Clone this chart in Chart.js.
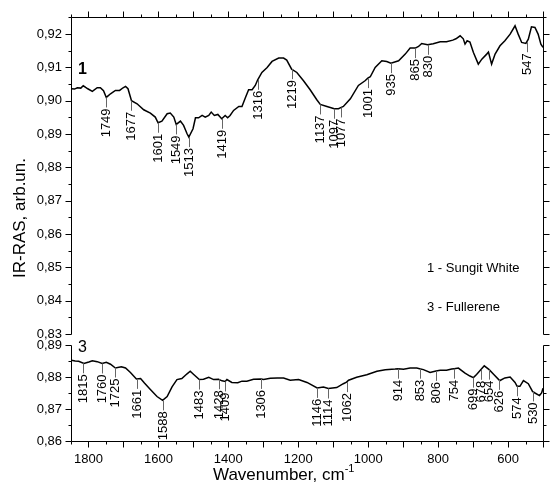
<!DOCTYPE html>
<html>
<head>
<meta charset="utf-8">
<script src="https://cdn.jsdelivr.net/npm/chart.js@4"></script>
<style>
  html, body { margin: 0; padding: 0; background: #fff; }
  #wrap { position: relative; width: 550px; height: 482px; }
  #wrap canvas { position: absolute; left: 0; top: 0; }
</style>
</head>
<body>
<div id="wrap">
  <canvas id="upper" width="550" height="482"></canvas>
  <canvas id="lower" width="550" height="482"></canvas>
</div>
<script>
// 1 - Sungit White
const wn1 = [1849, 1840, 1832, 1822, 1815, 1808, 1802, 1789, 1775, 1766, 1757, 1749, 1737, 1723, 1711, 1701,
  1694, 1687, 1677, 1661, 1642, 1623, 1609, 1601, 1590, 1575, 1566, 1556, 1549, 1537, 1528, 1518, 1513, 1501,
  1494, 1485, 1475, 1466, 1456, 1449, 1440, 1430, 1419, 1409, 1402, 1395, 1385, 1370, 1361, 1351, 1342, 1332,
  1323, 1316, 1304, 1289, 1275, 1256, 1242, 1233, 1219, 1204, 1185, 1166, 1147, 1137, 1118, 1097, 1085, 1077,
  1071, 1051, 1028, 1009, 1001, 994, 980, 961, 947, 935, 913, 894, 880, 865, 856, 847, 830, 814, 794, 776, 758,
  749, 737, 728, 723, 717, 709, 699, 685, 675, 661, 656, 647, 637, 623, 609, 594, 580, 571, 561, 549, 542, 533,
  523, 514, 506, 500];
const ir1 = [0.9036, 0.9035, 0.9039, 0.9038, 0.9045, 0.9040, 0.9036, 0.9028, 0.9039, 0.9039, 0.9030, 0.9010,
  0.9021, 0.9031, 0.9031, 0.9039, 0.9043, 0.9036, 0.9000, 0.8991, 0.8973, 0.8963, 0.8951, 0.8934, 0.8939,
  0.8961, 0.8963, 0.8951, 0.8929, 0.8939, 0.8926, 0.8901, 0.8891, 0.8916, 0.8949, 0.8949, 0.8956, 0.8951,
  0.8956, 0.8966, 0.8956, 0.8959, 0.8946, 0.8956, 0.8949, 0.8956, 0.8971, 0.8983, 0.8983, 0.9010, 0.9033,
  0.9033, 0.9046, 0.9063, 0.9085, 0.9100, 0.9118, 0.9128, 0.9128, 0.9122, 0.9095, 0.9085, 0.9060, 0.9033,
  0.9003, 0.8989, 0.8983, 0.8976, 0.8976, 0.8980, 0.8983, 0.9006, 0.9046, 0.9060, 0.9068, 0.9072, 0.9100,
  0.9120, 0.9118, 0.9113, 0.9120, 0.9140, 0.9158, 0.9158, 0.9163, 0.9172, 0.9168, 0.9171, 0.9177, 0.9177,
  0.9182, 0.9186, 0.9195, 0.9186, 0.9170, 0.9180, 0.9176, 0.9145, 0.9110, 0.9125, 0.9140, 0.9146, 0.9110,
  0.9140, 0.9165, 0.9180, 0.9200, 0.9225, 0.9200, 0.9175, 0.9172, 0.9185, 0.9222, 0.9220, 0.9200, 0.9170,
  0.9160];
const peaks1 = [1749, 1677, 1601, 1549, 1513, 1419, 1316, 1219, 1137, 1097, 1077, 1001, 935, 865, 830, 547];

// 3 - Fullerene
const wn3 = [1849, 1838, 1828, 1813, 1799, 1789, 1775, 1761, 1749, 1737, 1723, 1706, 1694, 1680, 1663, 1651,
  1640, 1623, 1604, 1588, 1575, 1561, 1547, 1533, 1518, 1509, 1499, 1483, 1471, 1456, 1442, 1428, 1418, 1409,
  1404, 1390, 1373, 1361, 1347, 1328, 1306, 1299, 1280, 1260, 1242, 1223, 1199, 1175, 1146, 1128, 1114, 1090,
  1071, 1062, 1056, 1033, 1004, 975, 951, 923, 914, 899, 880, 861, 853, 842, 823, 806, 794, 776, 761, 754, 742,
  723, 709, 699, 690, 680, 668, 654, 640, 626, 623, 609, 594, 580, 574, 566, 556, 542, 530, 523, 510, 504, 500];
const ir3 = [0.8852, 0.8850, 0.8849, 0.8842, 0.8847, 0.8851, 0.8848, 0.8842, 0.8846, 0.8840, 0.8828, 0.8832,
  0.8828, 0.8814, 0.8794, 0.8795, 0.8781, 0.8761, 0.8739, 0.8727, 0.8739, 0.8769, 0.8792, 0.8795, 0.8810,
  0.8818, 0.8808, 0.8792, 0.8793, 0.8799, 0.8792, 0.8793, 0.8788, 0.8786, 0.8792, 0.8783, 0.8782, 0.8787,
  0.8787, 0.8793, 0.8794, 0.8792, 0.8796, 0.8797, 0.8797, 0.8790, 0.8792, 0.8783, 0.8766, 0.8769, 0.8764,
  0.8767, 0.8779, 0.8784, 0.8790, 0.8799, 0.8807, 0.8818, 0.8823, 0.8825, 0.8826, 0.8824, 0.8828, 0.8828,
  0.8826, 0.8823, 0.8814, 0.8819, 0.8821, 0.8821, 0.8825, 0.8826, 0.8828, 0.8812, 0.8803, 0.8798, 0.8808,
  0.8820, 0.8835, 0.8823, 0.8807, 0.8791, 0.8789, 0.8797, 0.8800, 0.8783, 0.8771, 0.8771, 0.8789, 0.8779,
  0.8755, 0.8750, 0.8742, 0.8750, 0.8765];
const peaks3 = [1815, 1760, 1725, 1661, 1588, 1483, 1428, 1409, 1306, 1146, 1114, 1062, 914, 853, 806, 754,
  699, 678, 654, 626, 574, 530];

const xLabels = [1800, 1600, 1400, 1200, 1000, 800, 600];
const yLabels1 = [0.83, 0.84, 0.85, 0.86, 0.87, 0.88, 0.89, 0.90, 0.91, 0.92];
const yLabels3 = [0.86, 0.87, 0.88, 0.89];
const legendLines = ['1 - Sungit White', '3 - Fullerene'];

const FONT = '"Liberation Sans", Arial, sans-serif';
Chart.defaults.font.family = FONT;
Chart.defaults.color = '#000';

function valueAt(xs, ys, w) {
  for (let i = 0; i < xs.length - 1; i++) {
    const a = xs[i], b = xs[i + 1];
    if (w <= a && w >= b) {
      return ys[i] + (w - a) / (b - a) * (ys[i + 1] - ys[i]);
    }
  }
  return ys[ys.length - 1];
}

const comma = v => Number(v).toFixed(2).replace('.', ',');

// axes frame, minor ticks, peak marks and texts
function makeFrame(cfg) {
  return {
    id: 'frame' + cfg.tag,
    afterDatasetsDraw(chart) {
      const { ctx, chartArea: a, scales: { x, y } } = chart;
      const L = Math.round(a.left) + 0.5;
      const R = Math.round(a.right) + 0.5;
      const T = Math.round(a.top) + 0.5;
      const B = Math.round(a.bottom) + 0.5;
      const edge = cfg.side === 'top' ? T : B;
      const dir = cfg.side === 'top' ? -1 : 1;

      ctx.save();
      ctx.strokeStyle = '#000';
      ctx.lineWidth = 1;
      ctx.beginPath();
      ctx.moveTo(L, T); ctx.lineTo(L, B);
      ctx.moveTo(R, T); ctx.lineTo(R, B);
      ctx.moveTo(L, edge); ctx.lineTo(R, edge);
      for (let v = 500; v <= 1850; v += 50) {
        const px = Math.round(x.getPixelForValue(v)) + 0.5;
        const len = v % 100 === 0 ? 6 : 3;
        ctx.moveTo(px, edge); ctx.lineTo(px, edge + dir * len);
      }
      for (let i = 0; ; i++) {
        const v = y.min + i * 0.005;
        if (v > y.max + 1e-9) break;
        const py = Math.round(y.getPixelForValue(v)) + 0.5;
        const len = i % 2 === 0 ? 6 : 3;
        ctx.moveTo(L, py); ctx.lineTo(L - len, py);
        ctx.moveTo(R, py); ctx.lineTo(R + len, py);
      }
      ctx.stroke();

      // peak marks
      ctx.strokeStyle = '#666';
      ctx.beginPath();
      cfg.peaks.forEach(p => {
        const px = Math.round(x.getPixelForValue(p)) + 0.5;
        const py = y.getPixelForValue(valueAt(cfg.xs, cfg.ys, p));
        ctx.moveTo(px, py); ctx.lineTo(px, py + 10);
      });
      ctx.stroke();
      ctx.fillStyle = '#000';
      ctx.font = '13px ' + FONT;
      ctx.textAlign = 'right';
      ctx.textBaseline = 'middle';
      cfg.peaks.forEach(p => {
        const px = Math.round(x.getPixelForValue(p)) + 0.5;
        const py = y.getPixelForValue(valueAt(cfg.xs, cfg.ys, p));
        ctx.save();
        ctx.translate(px, py + 11);
        ctx.rotate(-Math.PI / 2);
        ctx.fillText(String(p), 0, 0);
        ctx.restore();
      });

      // curve number
      ctx.textAlign = 'left';
      ctx.font = cfg.tagFont + ' 16px ' + FONT;
      ctx.fillText(cfg.tag, a.left + 7, a.top + cfg.tagDy);

      if (cfg.legend) {
        ctx.font = '13px ' + FONT;
        legendLines.forEach((t, i) => ctx.fillText(t, a.right - 116, a.top + 252 + i * 39));
      }

      if (cfg.titles) {
        ctx.font = '17px ' + FONT;
        ctx.textBaseline = 'alphabetic';
        const main = 'Wavenumber, cm';
        const x0 = a.left + 142;
        ctx.fillText(main, x0, a.bottom + 39);
        const w = ctx.measureText(main).width;
        ctx.font = '11px ' + FONT;
        ctx.fillText('-1', x0 + w, a.bottom + 31);

        ctx.font = '17px ' + FONT;
        ctx.textAlign = 'center';
        ctx.textBaseline = 'middle';
        ctx.save();
        ctx.translate(20, a.bottom - 223);
        ctx.rotate(-Math.PI / 2);
        ctx.fillText('IR-RAS, arb.un.', 0, 0);
        ctx.restore();
      }
      ctx.restore();
    }
  };
}

function spectrum(wns, vals) {
  return {
    data: wns.map((w, i) => ({ x: w, y: vals[i] })),
    borderColor: '#000',
    borderWidth: 1.5,
    pointRadius: 0,
    fill: false,
    tension: 0
  };
}

const hidden = { display: false };

new Chart(document.getElementById('upper'), {
  type: 'line',
  data: { datasets: [spectrum(wn1, ir1)] },
  options: {
    responsive: false,
    animation: false,
    events: [],
    layout: { padding: { top: 16, right: 7, bottom: 148, left: 0 } },
    plugins: { legend: hidden, tooltip: { enabled: false } },
    scales: {
      x: { type: 'linear', reverse: true, min: 500, max: 1850, display: false },
      y: {
        min: 0.83,
        max: 0.9252,
        afterFit: s => { s.width = 71; },
        afterBuildTicks: s => { s.ticks = yLabels1.map(v => ({ value: v })); },
        grid: { display: false, drawTicks: false },
        border: { display: false },
        ticks: { padding: 9, font: { size: 13 }, callback: comma }
      }
    }
  },
  plugins: [makeFrame({ tag: '1', tagFont: 'bold', tagDy: 53, side: 'top', peaks: peaks1, xs: wn1, ys: ir1, legend: true })]
});

new Chart(document.getElementById('lower'), {
  type: 'line',
  data: { datasets: [spectrum(wn3, ir3)] },
  options: {
    responsive: false,
    animation: false,
    events: [],
    layout: { padding: { top: 345, right: 7, bottom: 0, left: 0 } },
    plugins: { legend: hidden, tooltip: { enabled: false } },
    scales: {
      x: {
        type: 'linear',
        reverse: true,
        min: 500,
        max: 1850,
        afterFit: s => { s.height = 41; },
        afterBuildTicks: s => { s.ticks = xLabels.map(v => ({ value: v })); },
        grid: { display: false, drawTicks: false },
        border: { display: false },
        ticks: { padding: 11, font: { size: 13 }, maxRotation: 0, callback: v => String(v) }
      },
      y: {
        min: 0.86,
        max: 0.89,
        afterFit: s => { s.width = 71; },
        afterBuildTicks: s => { s.ticks = yLabels3.map(v => ({ value: v })); },
        grid: { display: false, drawTicks: false },
        border: { display: false },
        ticks: { padding: 9, font: { size: 13 }, callback: comma }
      }
    }
  },
  plugins: [makeFrame({ tag: '3', tagFont: 'normal', tagDy: 3, side: 'bottom', peaks: peaks3, xs: wn3, ys: ir3, titles: true })]
});
</script>
</body>
</html>
